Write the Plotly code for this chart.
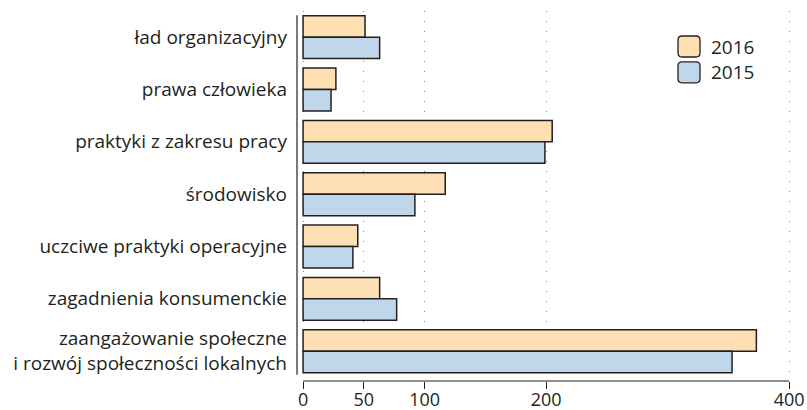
import plotly.graph_objects as go

categories = [
    "ład organizacyjny",
    "prawa człowieka",
    "praktyki z zakresu pracy",
    "środowisko",
    "uczciwe praktyki operacyjne",
    "zagadnienia konsumenckie",
    "zaangażowanie społeczne<br>i rozwój społeczności lokalnych",
]
values_2016 = [51, 27, 205, 117, 45, 63, 373]
values_2015 = [63, 23, 199, 92, 41, 77, 353]
tick_values = [0, 50, 100, 200, 400]
series_names = ["2016", "2015"]

c2016 = "#FDDFB3"
c2015 = "#C0D6EA"
edge = "#231F20"
font_family = "'Open Sans', 'Noto Sans', sans-serif"

W, H = 807, 410
ML, MR, MT, MB = 297, 16, 11, 29
PW, PH = W - ML - MR, H - MT - MB


def px_to_paper(px, py):
    return (px - ML) / PW, (H - MB - py) / PH


def rounded_rect(x0, y0, x1, y1, r):
    def P(x, y):
        a, b = px_to_paper(x, y)
        return f"{a:.5f},{b:.5f}"
    return (f"M{P(x0 + r, y0)} L{P(x1 - r, y0)} Q{P(x1, y0)} {P(x1, y0 + r)} "
            f"L{P(x1, y1 - r)} Q{P(x1, y1)} {P(x1 - r, y1)} "
            f"L{P(x0 + r, y1)} Q{P(x0, y1)} {P(x0, y1 - r)} "
            f"L{P(x0, y0 + r)} Q{P(x0, y0)} {P(x0 + r, y0)} Z")


fig = go.Figure()
fig.add_trace(go.Bar(y=categories, x=values_2016, orientation="h", name=series_names[0],
                     marker=dict(color=c2016, line=dict(color=edge, width=1.5))))
fig.add_trace(go.Bar(y=categories, x=values_2015, orientation="h", name=series_names[1],
                     marker=dict(color=c2015, line=dict(color=edge, width=1.5))))

shapes = [
    dict(type="line", xref="paper", yref="y", x0=0, x1=0, y0=-0.42, y1=6.45,
         line=dict(color=edge, width=1.2)),
    dict(type="line", xref="x", yref="paper", x0=0, x1=400, y0=0, y1=0,
         line=dict(color=edge, width=1.2)),
]
annotations = []
# legend (drawn manually to match the large rounded swatches)
for i, (name, col) in enumerate(zip(series_names, [c2016, c2015])):
    cy = 46.5 + i * 25.8
    shapes.append(dict(type="path", xref="paper", yref="paper",
                       path=rounded_rect(678, cy - 10.5, 700, cy + 10.5, 4),
                       fillcolor=col, line=dict(color=edge, width=1.3)))
    ax, ay = px_to_paper(709, cy)
    annotations.append(dict(x=ax, y=ay, xref="paper", yref="paper", text=name,
                            showarrow=False, xanchor="left", yanchor="middle",
                            font=dict(size=19, color=edge)))

fig.update_layout(
    width=W, height=H,
    margin=dict(l=ML, r=MR, t=MT, b=MB, autoexpand=False),
    plot_bgcolor="white", paper_bgcolor="white",
    barmode="group", bargap=0.18, bargroupgap=0,
    font=dict(family=font_family, size=19, color=edge),
    showlegend=False,
    xaxis=dict(range=[-5, 401.5], tickvals=tick_values, ticks="outside",
               ticklen=7, tickcolor=edge, tickwidth=1.2, automargin=False,
               showline=False, zeroline=False, tickfont=dict(size=18),
               ticklabelstandoff=-5,
               showgrid=True, gridcolor="#8a8a8a", gridwidth=1,
               griddash="1px,9px"),
    yaxis=dict(range=[6.57, -0.5], showline=False, ticks="", showgrid=False,
               zeroline=False, ticklabelstandoff=9, automargin=False),
    shapes=shapes,
    annotations=annotations,
)

fig.write_html("out.html", config={"displayModeBar": False},
               post_script="document.body.style.margin='0';")
